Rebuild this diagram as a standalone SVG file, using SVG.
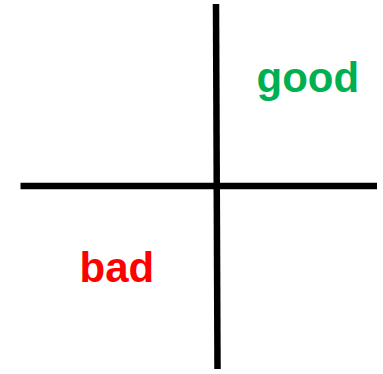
<svg xmlns="http://www.w3.org/2000/svg" width="383" height="374" viewBox="0 0 383 374">
<style>
.axis{stroke:#000;stroke-width:6.5;fill:none}
.lbl{font-family:"Liberation Sans",Arial,sans-serif;font-weight:bold;font-size:42px}
</style>
<rect width="383" height="374" fill="#fff"/>
<g id="connectors">
<line class="axis" x1="216" y1="4" x2="217.5" y2="369"/>
<line class="axis" x1="20.5" y1="186" x2="377" y2="186"/>
</g>
<g id="good"><text class="lbl" x="256.5" y="91.5" fill="#00B050">good</text></g>
<g id="bad"><text class="lbl" x="79.5" y="281.5" fill="#FF0000">bad</text></g>
</svg>
